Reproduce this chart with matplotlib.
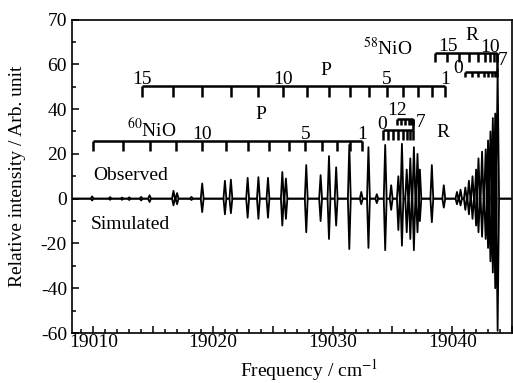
import matplotlib
matplotlib.use("Agg")
import matplotlib.pyplot as plt
from matplotlib.ticker import MultipleLocator, FixedLocator, FuncFormatter

plt.rcParams['font.family'] = ['Liberation Serif', 'DejaVu Serif']
plt.rcParams['mathtext.fontset'] = 'stix'

# spectral lines: position (cm-1), observed height, simulated depth
line_pos = [19009.9, 19011.4, 19012.4, 19013.0, 19014.0, 19014.7, 19016.7, 19017.0,
            19018.2, 19019.1, 19021.0, 19021.5, 19022.9, 19023.8, 19024.6, 19025.8,
            19026.1, 19027.8, 19029.0, 19029.7, 19030.3, 19031.4, 19032.4, 19033.0,
            19033.7, 19034.4, 19034.9, 19035.5, 19035.8, 19036.2, 19036.5, 19036.8,
            19037.1, 19037.3, 19038.3, 19039.3, 19040.4, 19040.7, 19041.1, 19041.4,
            19041.7, 19042.0, 19042.2, 19042.5, 19042.8, 19043.0, 19043.2, 19043.4,
            19043.6, 19043.8]
observed = [1.0, 0.7, 0.5, 0.6, 0.8, 1.5, 3.5, 2.5,
            0.8, 6.8, 8.0, 8.5, 9.3, 9.6, 9.3, 11.9,
            9.0, 15.0, 10.5, 19.0, 14.0, 24.0, 3.0, 23.0,
            2.0, 24.0, 6.0, 10.0, 24.5, 13.0, 18.0, 23.0,
            20.0, 13.0, 15.0, 6.0, 3.0, 4.0, 5.0, 8.0,
            10.0, 13.0, 18.0, 21.0, 22.0, 26.0, 30.0, 36.0,
            38.0, 58.0]
simulated = [-0.8, -0.5, -0.5, -0.6, -0.8, -1.5, -3.0, -2.5,
             -0.6, -6.0, -7.0, -6.5, -8.5, -9.0, -8.5, -12.0,
             -9.0, -15.0, -10.0, -18.0, -12.0, -22.5, -2.5, -22.0,
             -2.0, -23.0, -5.0, -14.0, -21.0, -15.0, -18.0, -23.0,
             -15.0, -10.0, -10.5, -4.0, -2.5, -3.0, -5.0, -7.0,
             -9.0, -12.0, -15.0, -17.0, -18.0, -22.0, -28.0, -33.0,
             -40.0, -59.0]

# assignment ladders (line positions, cm-1)
p58_pos = [19014.03, 19016.67, 19019.11, 19021.53, 19023.78, 19025.83, 19027.86, 19029.67,
           19031.47, 19033.06, 19034.53, 19035.86, 19037.17, 19038.33, 19039.39]   # J = 15..1
r58_up_pos = [19038.56, 19039.58, 19040.58, 19041.42, 19042.13, 19042.71, 19043.17,
              19043.5, 19043.75]                                                    # J = 15..7
r58_lo_pos = [19041.06, 19041.63, 19042.17, 19042.63, 19043.0, 19043.29, 19043.54, 19043.75]  # J = 0..7
p60_pos = [19009.94, 19012.44, 19014.72, 19016.94, 19019.06, 19021.06, 19022.94, 19024.72,
           19026.33, 19027.72, 19029.11, 19030.36, 19031.47, 19032.5]              # J = 14..1
r60_up_pos = [19035.36, 19035.75, 19036.08, 19036.38, 19036.58, 19036.7]           # J = 12..7
r60_lo_pos = [19034.25, 19034.67, 19035.08, 19035.5, 19035.88, 19036.21, 19036.46, 19036.7]  # J = 0..7

y_ticks = [-60, -40, -20, 0, 20, 40, 60, 80]
y_tick_labels = ['-60', '-40', '-20', '0', '20', '40', '60', '70']

XMIN, XMAX = 19008.2, 19045.0
HW = 0.12


def stick_trace(pos, heights):
    xs, ys = [XMIN], [0.0]
    for p, h in sorted(zip(pos, heights)):
        xs += [p - HW, p, p + HW]
        ys += [0.0, h, 0.0]
    xs.append(XMAX)
    ys.append(0.0)
    return xs, ys


def ladder(ax, pos, y, ylow):
    ax.hlines(y, min(pos), max(pos), color='black', lw=1.8)
    ax.vlines(pos, ylow, y, color='black', lw=1.8)


fig = plt.figure(figsize=(5.13, 3.83), dpi=100)
ax = fig.add_axes([0.140, 0.1305, 0.858, 0.8185])

xo, yo = stick_trace(line_pos, observed)
xs, ys = stick_trace(line_pos, simulated)
ax.plot(xo, yo, color='black', lw=1.3)
ax.plot(xs, ys, color='black', lw=1.3)

fs = 14
# 58NiO
ladder(ax, p58_pos, 50.3, 45.5)
ladder(ax, r58_up_pos, 64.9, 61.1)
ladder(ax, r58_lo_pos, 56.7, 54.5)
ax.vlines(r58_up_pos[-1], 56.7, 64.9, color='black', lw=1.8)
for lab, x in [('15', p58_pos[0]), ('10', p58_pos[5]), ('5', p58_pos[10]), ('1', p58_pos[14])]:
    ax.text(x, 51.0, lab, ha='center', va='baseline', fontsize=fs)
ax.text(19029.4, 55.2, 'P', ha='center', va='baseline', fontsize=fs)
ax.text(19034.6, 64.1, r'$^{58}$NiO', ha='center', va='baseline', fontsize=fs)
ax.text(19039.67, 66.0, '15', ha='center', va='baseline', fontsize=fs)
ax.text(19041.67, 70.8, 'R', ha='center', va='baseline', fontsize=fs)
ax.text(19043.14, 65.6, '10', ha='center', va='baseline', fontsize=fs)
ax.text(19044.25, 59.7, '7', ha='center', va='baseline', fontsize=fs)
ax.text(19040.5, 56.3, '0', ha='center', va='baseline', fontsize=fs)

# 60NiO
ladder(ax, p60_pos, 25.8, 21.3)
ladder(ax, r60_up_pos, 35.8, 32.8)
ladder(ax, r60_lo_pos, 30.6, 26.1)
ax.vlines(r60_up_pos[-1], 30.6, 35.8, color='black', lw=1.8)
for lab, x in [('10', p60_pos[4]), ('5', p60_pos[9]), ('1', p60_pos[13])]:
    ax.text(x, 26.8, lab, ha='center', va='baseline', fontsize=fs)
ax.text(19014.88, 27.8, r'$^{60}$NiO', ha='center', va='baseline', fontsize=fs)
ax.text(19023.97, 35.8, 'P', ha='center', va='baseline', fontsize=fs)
ax.text(19035.36, 37.4, '12', ha='center', va='baseline', fontsize=fs)
ax.text(19034.17, 31.3, '0', ha='center', va='baseline', fontsize=fs)
ax.text(19037.39, 32.1, '7', ha='center', va='baseline', fontsize=fs)
ax.text(19039.25, 27.6, 'R', ha='center', va='baseline', fontsize=fs)

ax.text(19013.1, 10.5, 'Observed', ha='center', va='center', fontsize=fs)
ax.text(19013.1, -11.5, 'Simulated', ha='center', va='center', fontsize=fs)

ax.set_xlim(XMIN, XMAX)
ax.set_ylim(-60, 80)
ax.yaxis.set_major_locator(FixedLocator(y_ticks))
ax.set_yticklabels(y_tick_labels)
ax.yaxis.set_minor_locator(MultipleLocator(10))
ax.xaxis.set_major_locator(MultipleLocator(5))
ax.xaxis.set_major_formatter(FuncFormatter(lambda v, p: '%d' % v if round(v) % 10 == 0 else ''))
ax.xaxis.set_minor_locator(MultipleLocator(1))
ax.tick_params(which='both', direction='in', top=False, right=False, labelsize=fs, width=1.1)
ax.tick_params(which='major', length=5)
ax.tick_params(which='minor', length=3)
ax.tick_params(axis='x', pad=1)
for s in ax.spines.values():
    s.set_linewidth(1.2)

ax.set_xlabel('Frequency / cm$^{-1}$', fontsize=fs, va='center')
ax.xaxis.set_label_coords(0.54, -0.118)
ax.set_ylabel('Relative intensity / Arb. unit', fontsize=fs, va='center')
ax.yaxis.set_label_coords(-0.123, 0.5)

fig.savefig('out.png', dpi=100)
